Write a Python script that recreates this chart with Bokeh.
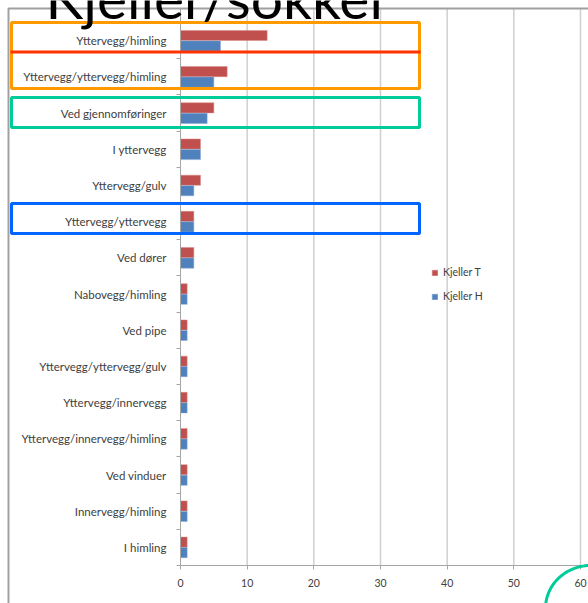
import numpy as np
from bokeh.plotting import figure
from bokeh.models import (Range1d, FixedTicker, ColumnDataSource, Legend, LegendItem,
                          BoxAnnotation, PolyAnnotation, Label, LinearAxis)
from bokeh.embed import file_html
from bokeh.resources import INLINE

# ---- data ----
categories = [
    "Yttervegg/himling",
    "Yttervegg/yttervegg/himling",
    "Ved gjennomføringer",
    "I yttervegg",
    "Yttervegg/gulv",
    "Yttervegg/yttervegg",
    "Ved dører",
    "Nabovegg/himling",
    "Ved pipe",
    "Yttervegg/yttervegg/gulv",
    "Yttervegg/innervegg",
    "Yttervegg/innervegg/himling",
    "Ved vinduer",
    "Innervegg/himling",
    "I himling",
]
kjeller_t = [13, 7, 5, 3, 3, 2, 2, 1, 1, 1, 1, 1, 1, 1, 1]
kjeller_h = [6, 5, 4, 3, 2, 2, 2, 1, 1, 1, 1, 1, 1, 1, 1]
series_names = ["Kjeller T", "Kjeller H"]
x_ticks = [0, 10, 20, 30, 40, 50, 60]
title_text = "Kjeller/sokkel"

# ---- layout (frame covers whole canvas; axes drawn at fixed locations) ----
W, H = 588, 603
X0_PX, X60_PX = 180, 580          # canvas px of value 0 and 60
AXIS_PX, TOP_PX = 565, 8          # canvas px of x-axis line and plot top
n = len(categories)
xmax = x_ticks[-1]
ppu = (X60_PX - X0_PX) / xmax
x_start = -X0_PX / ppu
x_end = x_start + W / ppu
row_px = (AXIS_PX - TOP_PX) / (n + 0.39)
y_bottom = 0.5 - (H - AXIS_PX) / row_px
y_top = y_bottom + H / row_px
y_plot_top = 0.5 + (AXIS_PX - TOP_PX) / row_px

pos = [n - i for i in range(n)]   # top category highest
bar_h = 0.28
off = 0.145

src = ColumnDataSource(dict(
    yt=[p_ + off for p_ in pos],
    yh=[p_ - off for p_ in pos],
    t=kjeller_t,
    h=kjeller_h,
))

FONT = "Lato"
GRID = "#cfcfcf"
AX = "#a6a6a6"
TXT = "#404040"

p = figure(width=W, height=H, output_backend="svg", toolbar_location=None,
           x_range=Range1d(x_start, x_end), y_range=Range1d(y_bottom, y_top),
           x_axis_location=None, y_axis_location=None,
           min_border=0, min_border_left=0, min_border_right=0,
           min_border_top=0, min_border_bottom=0, outline_line_color=None,
           background_fill_color="white", border_fill_color="white")
p.grid.visible = False

# vertical gridlines at the value ticks
p.segment(x0=x_ticks[1:], x1=x_ticks[1:], y0=0.5, y1=y_plot_top,
          line_color=GRID, line_width=1.5)

r_t = p.hbar(y="yt", right="t", left=0, height=bar_h, source=src,
             fill_color="#C0504D", line_color="#d98a88", line_width=0.5)
r_h = p.hbar(y="yh", right="h", left=0, height=bar_h, source=src,
             fill_color="#4F81BD", line_color="#8aaad4", line_width=0.5)

# x axis
xa = LinearAxis(fixed_location=0.5, bounds=(0, xmax), ticker=FixedTicker(ticks=x_ticks),
                axis_line_color=AX, major_tick_line_color=AX, major_tick_out=4,
                major_tick_in=0, minor_tick_line_color=None,
                major_label_text_font=FONT, major_label_text_font_size="10.5px",
                major_label_text_color=TXT, major_label_standoff=9)
p.add_layout(xa, "below")

# y axis (category axis)
bounds = [n + 0.5 - i for i in range(n + 1)]
ya = LinearAxis(fixed_location=0, bounds=(0.5, y_plot_top),
                ticker=FixedTicker(ticks=pos, minor_ticks=bounds),
                major_label_overrides={p_: c for p_, c in zip(pos, categories)},
                axis_line_color=AX, major_tick_line_color=None,
                minor_tick_line_color=AX, minor_tick_out=4, minor_tick_in=0,
                major_label_text_font=FONT, major_label_text_font_size="11.5px",
                major_label_text_color=TXT, major_label_standoff=8)
p.add_layout(ya, "left")

# legend
legend = Legend(items=[LegendItem(label=series_names[0], renderers=[r_t]),
                       LegendItem(label=series_names[1], renderers=[r_h])],
                location=(431, 301), orientation="vertical",
                glyph_width=7, glyph_height=7, label_height=12, spacing=12,
                label_standoff=5, padding=0, margin=0,
                border_line_color=None, background_fill_alpha=0,
                label_text_font=FONT, label_text_font_size="10.5px",
                label_text_color=TXT)
p.add_layout(legend, "center")

# slide decorations, given in canvas pixels (y down) -> screen units (y up)
def sy(y):
    return H - y

def sbox(l, r, t, b, **kw):
    p.add_layout(BoxAnnotation(left=l, right=r, top=sy(t), bottom=sy(b),
                               left_units="screen", right_units="screen",
                               top_units="screen", bottom_units="screen", **kw))

sbox(8, 900, 8, 900, fill_alpha=0, line_color="#a0a0a0", line_alpha=1, line_width=2)
sbox(11, 419, 22, 88, fill_alpha=0, line_color="#FF9900", line_alpha=1, line_width=3)
sbox(11, 419, 97, 127, fill_alpha=0, line_color="#00CC99", line_alpha=1, line_width=3)
sbox(11, 419, 203, 233, fill_alpha=0, line_color="#0066FF", line_alpha=1, line_width=3)
sbox(10, 420, 50, 53, fill_color="#FF3300", fill_alpha=1, line_color=None)

th = np.linspace(0, 2 * np.pi, 120)
p.add_layout(PolyAnnotation(xs=list(590 + 45 * np.cos(th)),
                            ys=[sy(v) for v in 608 + 43 * np.sin(th)],
                            xs_units="screen", ys_units="screen",
                            fill_alpha=0, line_color="#00CC99", line_alpha=1, line_width=3))

# slide title, cropped by the top edge as in the screenshot
p.add_layout(Label(x=45, y=sy(15) + 19, x_units="screen", y_units="screen", text=title_text,
                   text_font=FONT, text_font_size="57px", text_color="black",
                   text_baseline="alphabetic"))

open("out.html", "w").write(file_html(p, INLINE))
